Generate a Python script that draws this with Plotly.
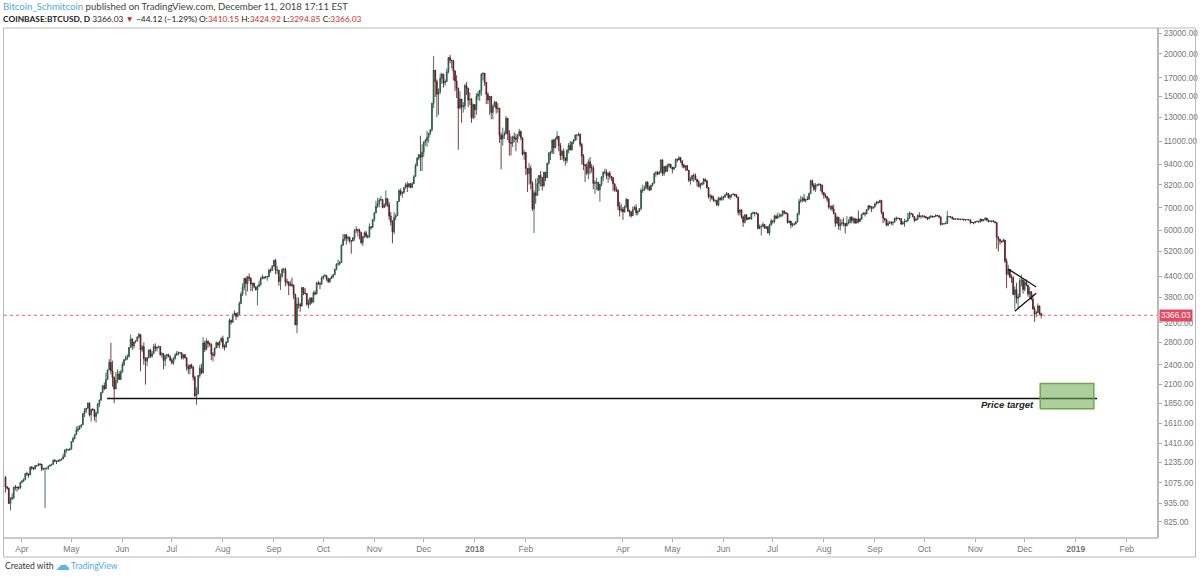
import math
import pandas as pd
import plotly.graph_objects as go

# ---------------- DATA (daily COINBASE:BTCUSD, each entry = (high, low, close)) ----------------
first_open = 1117
m2017_03 = [(1126,1005,1044),(1052,1026,1037),(1040,930,934),(975,890,965),(1000,955,971),(1045,962,1045),
            (1059,1021,1044),(1048,1012,1041),(1050,1024,1037),(1080,1034,1079)]  # from Mar 22
m2017_04 = [(1097,1071,1086),(1109,1082,1097),(1149,1096,1144),(1159,1126,1143),(1146,1112,1134),(1200,1133,1197),
            (1205,1172,1190),(1195,1175,1182),(1213,1178,1207),(1212,1198,1208),(1227,1206,1224),(1225,1210,1218),
            (1224,1164,1180),(1190,1170,1185),(1192,905,1186),(1191,1175,1187),(1208,1175,1205),(1216,1200,1212),
            (1225,1208,1219),(1259,1218,1254),(1262,1238,1247),(1250,1221,1243),(1260,1240,1252),(1259,1240,1257),
            (1270,1250,1265),(1310,1265,1284),(1348,1283,1346),(1360,1320,1347),(1355,1335,1349),(1362,1335,1351)]
m2017_05 = [(1430,1350,1421),(1470,1418,1453),(1497,1445,1490),(1580,1490,1537),(1588,1520,1555),(1590,1540,1578),
            (1600,1560,1596),(1730,1596,1723),(1790,1680,1756),(1790,1730,1787),(1860,1780,1849),(1860,1690,1708),
            (1780,1630,1772),(1790,1750,1771),(1775,1640,1689),(1745,1620,1728),(1850,1720,1839),(1897,1800,1888),
            (1998,1880,1987),(2090,1985,2084),(2130,2020,2041),(2280,2040,2174),(2325,2170,2320),(2500,2320,2443),
            (2790,2250,2304),(2470,2070,2203),(2220,1850,2038),(2290,2040,2155),(2330,2120,2255),(2300,2170,2175),
            (2320,2170,2286)]
m2017_06 = [(2450,2280,2407),(2490,2380,2489),(2560,2470,2516),(2580,2480,2540),(2710,2530,2705),(2950,2700,2863),
            (2880,2660,2733),(2810,2680,2806),(2840,2780,2824),(2920,2820,2900),(2990,2880,2951),(2960,2300,2660),
            (2750,2620,2717),(2800,2400,2507),(2530,2100,2465),(2540,2380,2519),(2670,2510,2656),(2680,2520,2548),
            (2640,2520,2590),(2770,2590,2721),(2780,2630,2690),(2720,2630,2706),(2740,2690,2720),(2730,2550,2577),
            (2620,2520,2589),(2600,2330,2476),(2560,2380,2556),(2590,2500,2575),(2590,2530,2540),(2560,2460,2480)]
m2017_07 = [(2510,2410,2434),(2530,2400,2506),(2600,2490,2565),(2640,2560,2601),(2630,2560,2602),(2620,2590,2608),
            (2610,2490,2519),(2580,2490,2572),(2590,2510,2519),(2530,2310,2372),(2410,2260,2337),(2410,2250,2399),
            (2420,2340,2364),(2380,2160,2208),(2230,1930,1946),(2060,1830,1971),(2240,1960,2234),(2400,2200,2344),
            (2420,2250,2272),(2900,2270,2788),(2830,2620,2668),(2880,2650,2826),(2830,2700,2777),(2800,2720,2762),
            (2780,2480,2583),(2620,2460,2565),(2700,2540,2694),(2820,2690,2792),(2800,2700,2748),(2830,2690,2817),
            (2900,2800,2876)]
m2017_08 = [(2930,2680,2718),(2760,2650,2711),(2820,2700,2804),(2900,2790,2895),(3300,2880,3252),(3270,3160,3213),
            (3400,3200,3378),(3480,3350,3419),(3420,3260,3342),(3440,3320,3381),(3700,3380,3650),(3950,3630,3884),
            (4190,3840,4073),(4340,3990,4325),(4380,3850,4181),(4400,3960,4376),(4480,4250,4331),(4360,3970,4160),
            (4200,3960,4194),(4200,4050,4087),(4090,3990,4001),(4130,3600,4100),(4260,4080,4151),(4370,4120,4334),
            (4450,4300,4372),(4380,4300,4352),(4400,4320,4382),(4400,4260,4382),(4620,4360,4579),(4640,4500,4565),
            (4740,4560,4704)]
m2017_09 = [(4920,4690,4892),(4950,4450,4578),(4720,4460,4582),(4560,4120,4236),(4480,4000,4376),(4650,4370,4598),
            (4650,4490,4599),(4660,4100,4228),(4320,4150,4226),(4240,3860,4122),(4260,4100,4161),(4350,4080,4130),
            (4150,3760,3882),(3900,3150,3154),(3800,2980,3637),(3800,3520,3625),(3670,3450,3583),(4090,3590,4065),
            (4080,3860,3924),(4050,3880,3905),(3910,3590,3631),(3750,3530,3630),(3800,3600,3792),(3790,3640,3682),
            (3970,3680,3926),(3990,3860,3892),(4220,3890,4200),(4260,4150,4174),(4220,4020,4163),(4380,4150,4338)]
m2017_10 = [(4410,4290,4403),(4470,4380,4409),(4430,4260,4318),(4350,4200,4230),(4350,4200,4329),(4410,4310,4371),
            (4460,4340,4439),(4620,4430,4611),(4800,4570,4773),(4920,4720,4782),(4880,4730,4820),(5450,4810,5430),
            (5860,5400,5650),(5850,5580,5833),(5850,5450,5678),(5780,5570,5725),(5760,5500,5605),(5600,5120,5590),
            (5740,5560,5708),(6060,5600,6011),(6180,5900,6031),(6080,5760,6008),(6070,5650,5930),(5890,5460,5526),
            (5770,5400,5750),(5960,5700,5904),(5990,5700,5780),(5830,5680,5753),(6300,5700,6153),(6180,6030,6130),
            (6470,6100,6468)]
m2017_11 = [(6780,6380,6767),(7350,6750,7078),(7500,7000,7207),(7480,7030,7379),(7600,7350,7407),(7420,6980,7023),
            (7220,6990,7144),(7880,7040,7459),(7460,7050,7143),(7290,6450,6618),(6800,6200,6357),(6450,5500,5950),
            (6800,5850,6559),(6720,6420,6635),(7330,6650,7315),(7950,7300,7871),(8000,7600,7708),(7830,7500,7790),
            (8080,7700,8036),(8300,7980,8200),(8370,7800,8071),(8300,8050,8253),(8280,8000,8038),(8350,8030,8253),
            (8750,8250,8659),(9470,8650,9330),(9900,9300,9818),(10100,9700,10058),(11450,9000,9888),(10800,9000,10233)]
m2017_12 = [(11000,9900,10975),(11200,10700,11074),(11850,10600,11323),(11660,10900,11657),(11950,11480,11916),
            (14300,11800,14291),(19697,13800,17899),(17200,14900,16570),(16800,13000,15178),(15800,13200,15455),
            (17500,15200,16936),(17600,16300,17415),(17400,15900,16408),(16800,16100,16564),(18100,16500,17707),
            (19540,17500,19498),(19891,18750,19140),(19200,18100,19114),(19200,16700,17777),(17900,15500,16624),
            (17300,14800,15802),(15900,10400,13831),(15500,13700,14700),(14700,12500,13926),(14400,13400,14027),
            (16300,13700,16099),(16500,15100,15838),(15800,13900,14607),(15400,14100,14656),(14800,12500,12953),
            (14250,12800,14157)]
m2018_01 = [(14000,12900,13657),(15300,13200,14982),(15500,14600,15201),(15650,14500,15599),(17500,15000,17430),
            (17600,16700,17527),(17500,16100,16477),(16500,14200,15170),(15400,14200,14595),(14980,13200,14973),
            (15000,12800,13405),(14150,12800,13980),(14500,13900,14360),(14500,13300,13772),(14300,13400,13819),
            (13800,10900,11490),(11700,9100,11188),(12100,10700,11474),(11800,11200,11607),(13100,11550,12899),
            (12900,11100,11600),(11900,10000,10931),(11400,10000,10868),(11450,10600,11359),(11700,10950,11259),
            (11600,10300,11171),(11600,10900,11441),(12000,11400,11787),(11850,11100,11296),(11300,10000,10106),
            (10400,9700,10221)]
m2018_02 = [(10200,8750,9170),(9100,7800,8830),(9500,8200,9174),(9350,7950,8277),(8400,6850,6955),(7900,5900,7754),
            (8550,7200,7621),(8600,7600,8265),(8750,7850,8736),(9000,8100,8621),(8550,7880,8129),(8950,8100,8926),
            (8950,8400,8598),(9500,8600,9494),(10250,9400,10166),(10300,9700,10233),(11150,10100,11112),
            (11200,10100,10551),(11300,10500,11225),(11800,11100,11403),(11300,10300,10690),(10900,9700,10005),
            (10400,9700,10301),(10500,9600,9813),(9900,9350,9664),(10450,9500,10366),(10900,10150,10725),
            (11050,10350,10397)]
m2018_03 = [(11000,10350,10951),(11200,10800,11086),(11550,11050,11489),(11520,11100,11512),(11700,11400,11573),
            (11600,10600,10780),(10900,9400,9965),(10100,9050,9395),(9450,8350,9337),(9500,8750,8866),(9750,8500,9578),
            (9900,8800,9205),(9450,8900,9194),(9350,7950,8270),(8450,7700,8300),(8600,7900,8338),(8350,7850,7916),
            (8250,7300,8223),(8700,8100,8630),(9000,8400,8914),(9150,8800,8929),(9100,8500,8728),(8900,8300,8880),
            (9000,8500,8669),(8700,8400,8596),(8650,7850,8251),(8200,7800,7917),(8100,7800,7889),(7950,6900,7095),
            (7300,6600,6882),(7200,6800,6935)]
m2018_04 = [(7050,6450,6813),(7120,6770,7056),(7500,7000,7416),(7420,6800,6854),(6920,6600,6812),(6860,6550,6636),
            (7070,6630,6911),(7100,6900,7023),(7180,6650,6770),(6890,6650,6834),(6970,6800,6968),(8000,6900,7889),
            (8200,7750,7895),(8150,7850,7986),(8400,7980,8329),(8400,7900,8058),(8150,7850,7902),(8200,7900,8163),
            (8300,8100,8294),(8900,8250,8845),(9000,8650,8895),(9000,8750,8802),(9000,8800,8930),(9750,8900,9697),
            (9750,8700,8845),(9300,8700,9281),(9350,8900,8987),(9450,8950,9348),(9500,9200,9419),(9450,9150,9240)]
m2018_05 = [(9250,8850,9119),(9250,9050,9235),(9800,9200,9743),(9800,9550,9700),(9950,9700,9858),(9900,9500,9654),
            (9650,9200,9373),(9450,9150,9234),(9350,9000,9325),(9380,9020,9043),(9050,8350,8441),(8650,8200,8504),
            (8750,8400,8723),(8850,8350,8716),(8850,8450,8510),(8500,8100,8368),(8450,8050,8094),(8270,7950,8250),
            (8350,8150,8247),(8580,8200,8513),(8550,8350,8418),(8450,7980,8041),(8050,7450,7557),(7700,7300,7587),
            (7650,7400,7480),(7600,7300,7355),(7400,7250,7368),(7400,7100,7135),(7550,7070,7472),(7550,7350,7406),
            (7600,7350,7494)]
m2018_06 = [(7600,7370,7541),(7700,7500,7643),(7800,7630,7720),(7750,7450,7514),(7660,7400,7633),(7700,7500,7653),
            (7750,7650,7678),(7700,7560,7625),(7690,7500,7531),(7550,6650,6787),(6910,6650,6906),(6920,6500,6582),
            (6640,6150,6349),(6700,6300,6675),(6700,6440,6457),(6580,6450,6550),(6590,6480,6499),(6780,6450,6734),
            (6830,6700,6769),(6800,6600,6776),(6790,6700,6729),(6740,6050,6083),(6250,6050,6162),(6250,5800,6173),
            (6350,6150,6249),(6280,6080,6093),(6190,6050,6157),(6170,5880,5903),(6290,5800,6218),(6500,6220,6404)]
m2018_07 = [(6440,6280,6385),(6670,6300,6614),(6690,6480,6530),(6780,6500,6598),(6750,6560,6639),(6700,6550,6673),
            (6880,6600,6857),(6850,6700,6773),(6800,6700,6741),(6750,6300,6329),(6430,6310,6397),(6400,6100,6228),
            (6330,6150,6239),(6330,6200,6276),(6400,6250,6359),(6750,6340,6742),(7450,6650,7321),(7600,7250,7370),
            (7560,7270,7467),(7700,7300,7355),(7440,7250,7419),(7580,7380,7418),(7770,7400,7711),(8480,7700,8424),
            (8500,8050,8182),(8300,7850,7951),(8280,7800,8165),(8230,8100,8193),(8290,8120,8218),(8250,7850,8180),
            (8200,7650,7780)]
m2018_08 = [(7780,7450,7625),(7730,7480,7567),(7570,7300,7434),(7500,6950,7032),(7100,6900,7068),(7150,6850,6951),
            (7150,6700,6753),(6760,6150,6305),(6630,6250,6568),(6580,6030,6184),(6500,6000,6295),(6480,6200,6322),
            (6550,6170,6297),(6300,5880,6199),(6620,6170,6309),(6480,6250,6334),(6580,6300,6580),(6600,6300,6423),
            (6550,6300,6506),(6530,6290,6309),(6500,6300,6488),(6880,6300,6377),(6550,6360,6487),(6730,6450,6705),
            (6800,6670,6750),(6800,6600,6720),(6940,6700,6916),(7140,6880,7091),(7140,6930,7052),(7070,6800,6978),
            (7080,6950,7037)]
m2018_09 = [(7250,7030,7193),(7350,7150,7272),(7340,7200,7261),(7400,7250,7359),(7400,6700,6792),(6780,6300,6529),
            (6540,6370,6467),(6500,6170,6226),(6420,6170,6300),(6400,6270,6329),(6400,6230,6321),(6370,6200,6351),
            (6550,6340,6518),(6600,6400,6507),(6560,6480,6523),(6530,6420,6502),(6530,6230,6269),(6400,6250,6329),
            (6500,6150,6371),(6450,6350,6398),(6780,6390,6519),(6830,6680,6734),(6780,6690,6721),(6720,6560,6596),
            (6600,6350,6432),(6540,6400,6467),(6700,6440,6644),(6800,6550,6601),(6640,6500,6625),(6660,6550,6626)]
m2018_10 = [(6650,6540,6590),(6620,6500,6557),(6560,6440,6497),(6620,6490,6574),(6660,6540,6622),(6630,6560,6587),
            (6620,6540,6602),(6700,6580,6653),(6660,6600,6642),(6640,6520,6585),(6590,6200,6257),(6320,6230,6275),
            (6310,6260,6284),(6380,6270,6290),(6850,6280,6596),(6620,6560,6597),(6600,6550,6578),(6590,6460,6508),
            (6530,6450,6485),(6500,6470,6487),(6530,6470,6489),(6510,6460,6478),(6490,6440,6469),(6500,6460,6482),
            (6490,6430,6445),(6470,6420,6454),(6480,6440,6462),(6470,6440,6453),(6460,6260,6344),(6370,6320,6330),
            (6350,6260,6317)]
m2018_11 = [(6400,6320,6377),(6420,6350,6388),(6400,6330,6361),(6500,6340,6485),(6490,6380,6411),(6460,6390,6451),
            (6560,6440,6531),(6540,6390,6444),(6460,6340,6377),(6410,6370,6395),(6420,6330,6410),(6420,6350,6372),
            (6390,6300,6338),(6340,5300,5739),(5760,5200,5648),(5660,5450,5575),(5600,5510,5554),(5680,5550,5623),
            (5630,4810,4871),(4960,4050,4452),(4750,4420,4602),(4620,4350,4362),(4450,4200,4348),(4400,3860,3881),
            (4100,3500,4009),(4200,3650,3779),(3900,3520,3821),(4340,3800,4257),(4440,4100,4278),(4310,3900,4017)]
m2018_12 = [(4300,3960,4214),(4300,4100,4139),(4140,3820,3895),(4090,3780,3957),(3970,3730,3754),(3880,3500,3517),
            (3580,3220,3396),(3470,3320,3424),(3650,3420,3587),(3600,3370,3410.15),(3424.92,3294.85,3366.03)]

month_starts = ["2017-03-22", "2017-04-01", "2017-05-01", "2017-06-01", "2017-07-01", "2017-08-01", "2017-09-01",
                "2017-10-01", "2017-11-01", "2017-12-01", "2018-01-01", "2018-02-01", "2018-03-01", "2018-04-01",
                "2018-05-01", "2018-06-01", "2018-07-01", "2018-08-01", "2018-09-01", "2018-10-01", "2018-11-01",
                "2018-12-01"]
months = [m2017_03, m2017_04, m2017_05, m2017_06, m2017_07, m2017_08, m2017_09, m2017_10, m2017_11, m2017_12,
          m2018_01, m2018_02, m2018_03, m2018_04, m2018_05, m2018_06, m2018_07, m2018_08, m2018_09, m2018_10,
          m2018_11, m2018_12]

price_ticks = [23000, 20000, 17000, 15000, 13000, 11000, 9400, 8200, 7000, 6000, 5200, 4400, 3800, 3200, 2800,
               2400, 2100, 1850, 1610, 1410, 1235, 1075, 935, 825]
month_ticks = ["2017-04-01", "2017-05-01", "2017-06-01", "2017-07-01", "2017-08-01", "2017-09-01", "2017-10-01",
               "2017-11-01", "2017-12-01", "2018-01-01", "2018-02-01", "2018-04-01", "2018-05-01", "2018-06-01",
               "2018-07-01", "2018-08-01", "2018-09-01", "2018-10-01", "2018-11-01", "2018-12-01", "2019-01-01",
               "2019-02-01"]
month_labels = ["Apr", "May", "Jun", "Jul", "Aug", "Sep", "Oct", "Nov", "Dec", "<b>2018</b>", "Feb", "Apr", "May",
                "Jun", "Jul", "Aug", "Sep", "Oct", "Nov", "Dec", "<b>2019</b>", "Feb"]

last_price = 3366.03
# drawings
support_x = ["2017-05-22 17:00", "2019-01-14 00:00"]
support_y = [1910, 1910]
target_x = ["2018-12-10 10:00", "2019-01-12 00:00"]
target_y = [1782, 2116]
tri_upper_x = ["2018-11-21", "2018-12-08"]
tri_upper_y = [4613, 4083]
tri_lower_x = ["2018-11-25", "2018-12-08"]
tri_lower_y = [3463, 3914]

# ---------------- build table ----------------
rows = []
for start, m in zip(month_starts, months):
    d0 = pd.Timestamp(start)
    for i, (h, l, c) in enumerate(m):
        rows.append((d0 + pd.Timedelta(days=i), h, l, c))
df = pd.DataFrame(rows, columns=["date", "high", "low", "close"])
df["open"] = [first_open] + df["close"].tolist()[:-1]
df["high"] = df[["high", "open", "close"]].max(axis=1)
df["low"] = df[["low", "open", "close"]].min(axis=1)

fig = go.Figure()
fig.add_trace(go.Candlestick(
    x=df["date"], open=df["open"], high=df["high"], low=df["low"], close=df["close"],
    increasing=dict(line=dict(color="#1d4a38", width=0.8), fillcolor="#46a57c"),
    decreasing=dict(line=dict(color="#4a1019", width=0.8), fillcolor="#b3283f"),
    whiskerwidth=0, hoverinfo="skip"))

x_range = ["2017-03-21 02:00", "2019-02-19 23:00"]
# last price dotted line
fig.add_trace(go.Scatter(x=x_range, y=[last_price, last_price], mode="lines",
                         line=dict(color="#ee6478", width=1, dash="dot"), hoverinfo="skip"))
# support line
fig.add_trace(go.Scatter(x=support_x, y=support_y, mode="lines", line=dict(color="#111111", width=1.5),
                         hoverinfo="skip"))
# target rectangle
fig.add_trace(go.Scatter(x=[target_x[0], target_x[1], target_x[1], target_x[0], target_x[0]],
                         y=[target_y[0], target_y[0], target_y[1], target_y[1], target_y[0]],
                         mode="lines", fill="toself", fillcolor="rgba(106,168,79,0.55)",
                         line=dict(color="#6aa84f", width=1.5), hoverinfo="skip"))
# triangle
fig.add_trace(go.Scatter(x=tri_upper_x, y=tri_upper_y, mode="lines", line=dict(color="#111111", width=1.3),
                         hoverinfo="skip"))
fig.add_trace(go.Scatter(x=tri_lower_x, y=tri_lower_y, mode="lines", line=dict(color="#111111", width=1.3),
                         hoverinfo="skip"))

W, H = 1200, 578
L, R, T, B = 4, 42, 28, 40
pw, ph = W - L - R, H - T - B


def px(xp):
    return (xp - L) / pw


def py(yp):
    return (H - B - yp) / ph


ann = []
ann.append(dict(text="<b><i>Price target</i></b>", x="2018-11-20 06:00", y=math.log10(1839), xref="x", yref="y",
                showarrow=False, font=dict(family="Liberation Sans", size=9.5, color="#222222"),
                xanchor="center", yanchor="middle"))
# last price label
ann.append(dict(text="3366.03", x=px(1158.5), y=math.log10(last_price), xref="paper", yref="y",
                showarrow=False, xanchor="left", yanchor="middle", bgcolor="#e8485f",
                font=dict(family="Liberation Sans", size=8.2, color="white"), borderpad=1))
# header
hfont = "Lato"
ann.append(dict(text="<span style='color:#4fa8dd'>Bitcoin_Schmitcoin</span> published on TradingView.com, "
                     "December 11, 2018 17:11 EST",
                x=px(1), y=py(7), xref="paper", yref="paper", showarrow=False, xanchor="left", yanchor="middle",
                font=dict(family=hfont, size=9.6, color="#444444")))
red = "#c9302c"
ann.append(dict(text=f"<b>COINBASE:BTCUSD, D</b> 3366.03 <span style='color:{red}'>▼</span> −44.12 (−1.29%) "
                     f"O:<span style='color:{red}'>3410.15</span> H:<span style='color:{red}'>3424.92</span> "
                     f"L:<span style='color:{red}'>3294.85</span> C:<span style='color:{red}'>3366.03</span>",
                x=px(1), y=py(19), xref="paper", yref="paper", showarrow=False, xanchor="left", yanchor="middle",
                font=dict(family=hfont, size=8.4, color="#222222")))
# footer
ann.append(dict(text="Created with", x=px(3), y=py(566), xref="paper", yref="paper", showarrow=False,
                xanchor="left", yanchor="middle", font=dict(family=hfont, size=8.6, color="#333333")))
ann.append(dict(text="☁", x=px(53), y=py(565), xref="paper", yref="paper", showarrow=False,
                xanchor="left", yanchor="middle", font=dict(family="DejaVu Sans", size=15, color="#5db4e6")))
ann.append(dict(text="TradingView", x=px(69), y=py(566), xref="paper", yref="paper", showarrow=False,
                xanchor="left", yanchor="middle", font=dict(family=hfont, size=8.6, color="#4fa8dd")))

shapes = [
    # outer frame
    dict(type="rect", xref="paper", yref="paper", x0=px(3.5), x1=px(1195.5), y0=py(557), y1=py(28),
         line=dict(color="#b8b8b8", width=1)),
    # price axis separator
    dict(type="line", xref="paper", yref="paper", x0=px(1158), x1=px(1158), y0=py(538), y1=py(28),
         line=dict(color="#b8b8b8", width=2)),
    # time axis line
    dict(type="line", xref="paper", yref="paper", x0=px(3.5), x1=px(1158), y0=py(538), y1=py(538),
         line=dict(color="#b8b8b8", width=1.5)),
]

fig.update_layout(
    width=W, height=H, margin=dict(l=L, r=R, t=T, b=B, autoexpand=False), autosize=False,
    paper_bgcolor="white", plot_bgcolor="white", showlegend=False, hovermode=False,
    annotations=ann, shapes=shapes,
    xaxis=dict(type="date", range=x_range, rangeslider=dict(visible=False), showgrid=False, zeroline=False,
               automargin=False,
               tickvals=month_ticks, ticktext=month_labels, ticks="outside", ticklen=3, tickcolor="#aaaaaa",
               tickfont=dict(family="Liberation Sans", size=8.5, color="#777777"), showline=False),
    yaxis=dict(type="log", side="right", range=[math.log10(738), math.log10(23850)], showgrid=False,
               automargin=False,
               zeroline=False, tickvals=price_ticks, ticktext=[f"{v:.2f}" for v in price_ticks],
               ticks="outside", ticklen=3, tickcolor="#aaaaaa",
               tickfont=dict(family="Liberation Sans", size=8.2, color="#777777"), showline=False),
)

fig.write_html("out.html", config={"displayModeBar": False, "staticPlot": True},
               post_script="document.body.style.margin='0';document.body.style.overflow='hidden';")
